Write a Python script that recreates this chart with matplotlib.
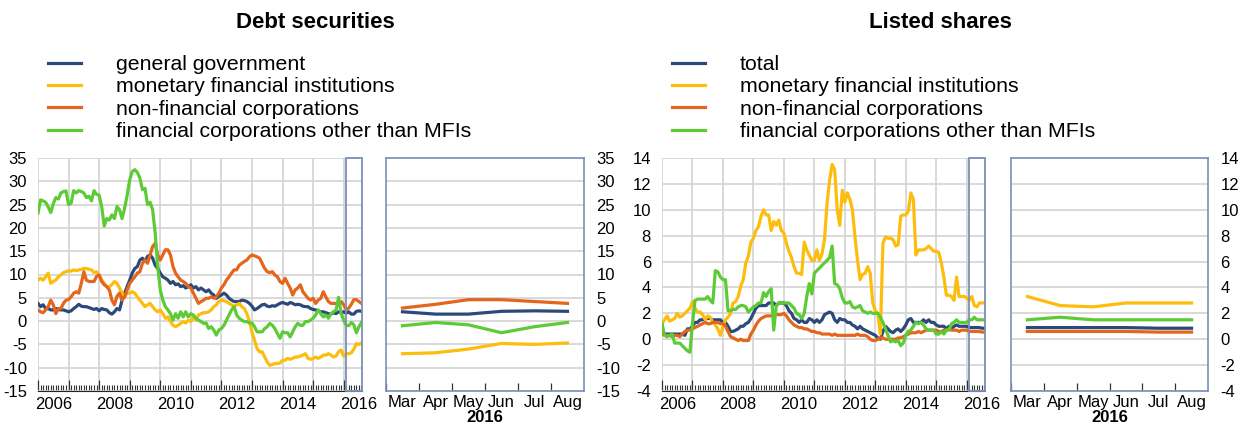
import numpy as np
import matplotlib
matplotlib.use("Agg")
from matplotlib import pyplot as plt
from matplotlib.patches import Rectangle

plt.rcParams["font.family"] = ["Liberation Sans", "DejaVu Sans"]
plt.rcParams["axes.unicode_minus"] = False

# monthly data, Jan 2006 - Aug 2016
debt_gg = [3.8, 3.1, 3.5, 2.7, 2.7, 2.4, 2.4, 2.7, 2.5, 2.4, 2.4, 2.2,
           2.0, 2.2, 2.7, 3.1, 3.6, 3.2, 3.1, 3.1, 2.9, 2.7, 2.5, 2.7,
           2.2, 2.7, 2.5, 2.4, 1.8, 1.5, 2.0, 2.7, 2.4, 4.5, 6.0, 7.4,
           8.8, 10.3, 11.3, 11.7, 13.1, 13.5, 12.8, 13.9, 14.2, 13.5, 12.0, 11.3,
           10.3, 9.5, 9.2, 8.8, 8.1, 8.5, 7.8, 8.0, 7.4, 7.6, 7.1, 7.4,
           7.8, 7.1, 7.4, 6.7, 7.1, 6.7, 6.3, 6.7, 6.0, 5.6, 4.9, 5.3,
           5.6, 6.0, 5.6, 4.9, 4.5, 4.2, 4.2, 4.2, 4.5, 4.4, 4.2, 3.8,
           3.2, 2.4, 2.7, 3.1, 3.5, 3.6, 3.2, 3.1, 3.3, 3.2, 3.5, 3.8,
           4.0, 3.8, 3.6, 4.0, 3.8, 3.5, 3.6, 3.5, 3.2, 3.1, 3.1, 2.7,
           2.5, 2.4, 2.2, 2.0, 2.0, 1.8, 1.6, 1.5, 1.8, 1.6, 2.0, 1.8,
           2.0, 1.7, 2.0, 1.5, 1.5, 2.1, 2.2, 2.1]
debt_mfi = [8.8, 9.2, 8.8, 9.5, 10.3, 8.1, 8.5, 8.8, 9.5, 9.9, 10.4, 10.6,
            10.8, 10.7, 11.0, 10.8, 11.0, 11.1, 11.3, 11.3, 11.1, 11.0, 10.4, 10.6,
            9.9, 8.8, 8.1, 7.4, 7.4, 7.8, 8.5, 8.1, 7.1, 6.0, 5.2, 6.0,
            6.0, 6.3, 6.0, 5.2, 4.5, 3.8, 3.1, 3.5, 3.8, 3.1, 2.4, 2.0,
            2.4, 1.6, 0.6, 0.9, -0.1, -0.9, -1.2, -0.9, -0.5, -0.1, -0.4, 0.2,
            -0.1, 0.9, 0.2, 1.3, 1.6, 1.8, 1.8, 2.0, 2.4, 3.1, 3.5, 4.2,
            4.5, 4.4, 4.2, 3.8, 3.5, 3.1, 3.5, 3.8, 3.1, 2.7, 1.6, -0.1,
            -2.3, -4.1, -5.9, -6.6, -6.6, -7.7, -8.8, -9.5, -9.3, -9.1, -9.1, -9.0,
            -8.4, -8.4, -8.0, -8.2, -8.0, -7.7, -7.7, -7.5, -7.3, -7.0, -8.0, -8.2,
            -8.0, -7.7, -8.0, -7.7, -7.3, -7.3, -7.0, -7.3, -7.7, -7.5, -6.6, -6.2,
            -7.5, -7.0, -7.0, -6.8, -6.0, -4.8, -5.0, -4.7]
debt_nfc = [2.4, 2.0, 1.8, 2.4, 3.1, 4.5, 3.5, 1.6, 2.7, 2.7, 3.8, 4.5,
            4.6, 5.2, 6.0, 6.3, 6.0, 8.1, 10.6, 8.8, 8.5, 8.5, 8.5, 9.6,
            9.9, 8.5, 7.8, 7.4, 6.7, 4.5, 3.5, 5.3, 6.0, 4.5, 5.2, 6.7,
            8.1, 8.8, 9.5, 10.3, 10.6, 12.4, 13.1, 12.4, 14.2, 16.0, 16.7, 14.2,
            13.1, 14.2, 15.3, 15.3, 14.2, 11.7, 10.3, 9.5, 8.8, 8.5, 8.1, 7.4,
            7.1, 6.0, 4.9, 3.8, 4.2, 4.5, 4.9, 4.9, 5.2, 4.9, 5.2, 6.0,
            7.1, 7.8, 8.8, 9.5, 10.3, 11.0, 11.0, 12.0, 12.4, 12.8, 13.1, 13.8,
            14.2, 14.0, 13.8, 13.5, 12.4, 11.3, 10.6, 10.4, 10.6, 9.9, 9.5, 8.5,
            8.1, 9.2, 8.1, 7.1, 5.6, 6.7, 7.1, 7.8, 6.3, 5.6, 4.9, 4.5,
            4.9, 3.8, 4.5, 4.9, 6.3, 5.2, 4.2, 3.8, 3.8, 3.8, 3.8, 4.2,
            3.5, 2.5, 2.8, 3.6, 4.6, 4.6, 4.2, 3.8]
debt_ofi = [23.2, 26.0, 25.8, 25.5, 24.5, 23.3, 25.2, 26.5, 26.2, 27.5, 27.8, 27.9,
            25.0, 25.3, 28.0, 27.5, 28.0, 27.8, 27.5, 26.5, 26.8, 25.8, 28.0, 27.2,
            27.0, 24.6, 20.4, 22.0, 21.7, 22.8, 22.0, 24.6, 23.9, 22.0, 24.2, 27.0,
            30.3, 32.1, 32.5, 31.9, 30.7, 28.2, 28.5, 25.0, 25.5, 23.9, 18.9, 11.7,
            6.7, 4.5, 3.1, 2.4, 1.6, 0.2, 1.6, 0.6, 2.0, 0.9, 2.0, 0.9,
            1.6, 1.3, 0.6, 0.2, -0.1, -0.5, -0.4, -1.6, -1.2, -1.9, -3.0, -1.9,
            -1.6, -0.9, 0.2, 1.3, 2.4, 3.1, 1.3, 0.6, 0.2, -0.1, -0.1, -0.4,
            -0.4, -1.2, -2.3, -2.3, -2.3, -1.6, -1.2, -0.5, -0.9, -1.6, -2.7, -3.7,
            -2.3, -2.5, -2.5, -3.4, -2.3, -1.2, -0.5, -0.9, -0.9, -0.1, -0.1, 0.2,
            0.6, 1.3, 2.4, 1.6, 0.9, 1.3, 0.6, 1.6, 2.0, 2.4, 5.1, 1.6,
            0.2, -0.9, -1.0, -0.3, -0.8, -2.5, -1.2, -0.3]

shares_total = [0.5, 0.4, 0.4, 0.4, 0.4, 0.4, 0.4, 0.4, 0.4, 0.3, 0.8, 0.8,
                1.0, 1.3, 1.3, 1.5, 1.5, 1.6, 1.6, 1.6, 1.5, 1.5, 1.5, 1.5,
                1.3, 1.3, 1.0, 0.6, 0.6, 0.7, 0.8, 1.0, 1.0, 1.2, 1.3, 1.6,
                2.0, 2.4, 2.6, 2.6, 2.6, 2.6, 2.8, 2.8, 2.8, 2.6, 2.8, 2.8,
                2.8, 2.6, 2.2, 2.0, 1.6, 1.5, 1.3, 1.5, 1.3, 1.3, 1.6, 1.5,
                1.3, 1.5, 1.3, 1.5, 1.9, 2.0, 2.1, 2.0, 1.5, 1.3, 1.6, 1.5,
                1.5, 1.3, 1.3, 1.1, 1.0, 0.8, 1.0, 0.8, 0.7, 0.6, 0.5, 0.4,
                0.3, 0.1, 0.0, 0.6, 1.0, 0.8, 0.6, 0.5, 0.7, 0.8, 0.6, 0.8,
                1.1, 1.5, 1.6, 1.3, 1.3, 1.3, 1.3, 1.5, 1.3, 1.5, 1.3, 1.3,
                1.1, 1.0, 1.0, 1.0, 0.8, 1.0, 0.8, 1.0, 1.1, 1.0, 1.0, 1.0,
                1.0, 0.9, 0.9, 0.9, 0.9, 0.9, 0.85, 0.85]
shares_mfi = [1.2, 1.5, 1.8, 1.4, 1.5, 1.6, 2.0, 1.7, 1.8, 2.0, 2.2, 2.4,
              2.9, 2.4, 2.1, 2.1, 1.9, 1.5, 1.8, 1.7, 1.3, 1.1, 0.8, 0.3,
              1.0, 1.5, 1.7, 2.0, 2.8, 2.9, 3.3, 4.1, 4.6, 5.9, 6.4, 7.5,
              7.8, 8.4, 8.7, 9.5, 10.0, 9.6, 9.6, 8.4, 9.1, 8.8, 9.2, 8.4,
              8.2, 7.4, 6.8, 6.3, 5.6, 5.1, 5.1, 5.0, 7.5, 6.9, 6.5, 6.1,
              6.1, 6.9, 6.1, 6.6, 7.7, 10.5, 12.3, 13.5, 13.1, 10.0, 8.8, 11.5,
              10.6, 11.3, 10.8, 10.0, 7.9, 6.1, 4.6, 5.0, 5.1, 5.6, 5.1, 2.8,
              2.2, 2.0, 0.4, 7.4, 7.9, 7.8, 7.8, 7.7, 7.2, 7.3, 9.5, 9.6,
              9.6, 9.9, 11.3, 10.8, 6.5, 6.9, 6.9, 6.9, 7.0, 7.2, 7.0, 6.8,
              6.8, 6.7, 5.9, 4.8, 3.4, 3.4, 3.3, 3.0, 4.8, 3.3, 3.3, 3.3,
              3.2, 3.0, 3.3, 2.6, 2.5, 2.8, 2.8, 2.8]
shares_nfc = [0.4, 0.3, 0.3, 0.3, 0.2, 0.3, 0.3, 0.2, 0.4, 0.6, 0.7, 0.7,
              0.8, 0.9, 1.0, 1.1, 1.2, 1.3, 1.2, 1.2, 1.3, 1.3, 1.3, 1.2,
              1.2, 1.0, 0.6, 0.2, 0.1, 0.0, -0.1, 0.0, -0.1, -0.1, -0.1, 0.4,
              0.7, 1.1, 1.4, 1.6, 1.7, 1.8, 1.8, 1.8, 1.9, 1.9, 1.9, 1.9,
              2.0, 1.8, 1.5, 1.3, 1.1, 1.0, 0.9, 0.9, 0.8, 0.8, 0.7, 0.6,
              0.6, 0.5, 0.5, 0.4, 0.4, 0.4, 0.4, 0.3, 0.4, 0.3, 0.3, 0.3,
              0.3, 0.3, 0.3, 0.3, 0.3, 0.4, 0.3, 0.3, 0.3, 0.2, 0.0, -0.1,
              -0.1, 0.0, 0.1, 0.1, 0.0, 0.0, 0.0, 0.0, 0.0, 0.1, 0.1, 0.2,
              0.3, 0.4, 0.5, 0.5, 0.5, 0.6, 0.5, 0.6, 0.7, 0.7, 0.7, 0.7,
              0.7, 0.6, 0.6, 0.7, 0.7, 0.8, 0.7, 0.7, 0.7, 0.6, 0.7, 0.7,
              0.7, 0.6, 0.6, 0.6, 0.6, 0.6, 0.55, 0.55]
shares_ofi = [1.2, 0.3, 0.2, 0.3, 0.4, -0.3, -0.3, -0.3, -0.5, -0.7, -0.9, -1.0,
              1.2, 3.0, 3.1, 3.1, 3.1, 3.1, 3.3, 3.0, 2.8, 5.3, 5.2, 4.8,
              4.6, 4.6, 2.2, 2.2, 2.3, 2.3, 2.5, 2.6, 2.6, 2.5, 2.1, 2.3,
              2.5, 2.6, 2.8, 2.8, 3.6, 3.3, 3.7, 3.9, 0.7, 2.6, 2.8, 2.8,
              2.8, 2.8, 2.8, 2.6, 2.4, 2.0, 1.9, 1.6, 2.0, 3.3, 4.3, 3.5,
              5.1, 5.3, 5.5, 5.7, 5.9, 6.1, 6.3, 7.2, 4.3, 4.2, 3.9, 3.2,
              2.8, 2.8, 2.9, 2.5, 2.4, 2.5, 2.6, 2.2, 2.1, 2.0, 2.1, 2.0,
              2.0, 2.0, 1.7, 1.3, 0.8, 0.3, -0.2, -0.1, -0.2, -0.1, -0.5, -0.3,
              0.3, 0.6, 0.7, 1.0, 1.3, 1.2, 1.3, 1.1, 0.8, 0.7, 0.7, 0.7,
              0.4, 0.4, 0.6, 0.4, 0.7, 0.7, 1.2, 1.3, 1.5, 1.3, 1.3, 1.3,
              1.3, 1.5, 1.5, 1.7, 1.5, 1.5, 1.5, 1.5]

months_2016 = ["Mar", "Apr", "May", "Jun", "Jul", "Aug"]
debt_labels = ["general government", "monetary financial institutions",
               "non-financial corporations", "financial corporations other than MFIs"]
shares_labels = ["total", "monetary financial institutions",
                 "non-financial corporations", "financial corporations other than MFIs"]

colors = ["#2b4a7a", "#fdbd0d", "#e3661c", "#5ccb35"]
grid_c = "#d3d3d3"
frame_c = "#7a90b5"
LW = 2.3
W, H = 1252, 425

fig = plt.figure(figsize=(12.52, 4.25), dpi=100)


def long_panel(rect, series, ylim, ystep):
    ax = fig.add_axes(rect)
    x = 2006 + np.arange(len(series[0])) / 12
    for s, c in zip(series, colors):
        ax.plot(x, s, color=c, lw=LW, solid_joinstyle="round")
    xmax = 2016.6
    ax.set_xlim(2006, xmax)
    ax.set_ylim(*ylim)
    ax.set_xticks(np.arange(2006, 2017))
    ax.set_xticks(2006 + np.arange(0, 128) / 12, minor=True)
    ax.set_xticklabels([])
    ax.set_yticks(np.arange(ylim[0], ylim[1] + 1, ystep))
    ax.tick_params(axis="x", which="major", direction="in", length=8, width=0.9, color="#333333")
    ax.tick_params(axis="x", which="minor", direction="in", length=4.5, width=0.8, color="#333333")
    ax.tick_params(axis="y", length=0, pad=8, labelsize=12)
    ax.grid(True, which="major", color=grid_c, lw=1.2)
    ax.set_axisbelow(True)
    for sp in ["left", "top", "right"]:
        ax.spines[sp].set_visible(False)
    ax.spines["bottom"].set_color("#222222")
    for yr in range(2006, 2017, 2):
        ax.text(yr + 0.5, -0.025, str(yr), transform=ax.get_xaxis_transform(),
                ha="center", va="top", fontsize=12)
    ax.add_patch(Rectangle((2016.08, ylim[0]), xmax - 2016.08, ylim[1] - ylim[0],
                           fill=False, edgecolor=frame_c, lw=1.3, clip_on=False, zorder=5))
    return ax


def short_panel(rect, series, ylim, ystep):
    ax = fig.add_axes(rect)
    x = np.arange(6)
    for s, c in zip(series, colors):
        ax.plot(x, s[-6:], color=c, lw=LW)
    ax.set_xlim(-0.5, 5.5)
    ax.set_ylim(*ylim)
    ax.set_xticks(np.arange(-0.5, 5.0, 1.0))
    ax.set_xticklabels([])
    ax.set_xticks(x, minor=True)
    ax.set_xticklabels(months_2016, minor=True, fontsize=12)
    ax.tick_params(axis="x", which="major", direction="in", length=6, width=0.9, color="#333333")
    ax.tick_params(axis="x", which="minor", length=0, pad=3)
    ax.set_yticks(np.arange(ylim[0], ylim[1] + 1, ystep))
    ax.yaxis.tick_right()
    ax.tick_params(axis="y", length=0, pad=9, labelsize=12)
    ax.grid(True, axis="y", color=grid_c, lw=1.2)
    ax.set_axisbelow(True)
    for sp in ax.spines.values():
        sp.set_color(frame_c)
        sp.set_linewidth(1.2)
    cx = rect[0] + rect[2] / 2
    fig.text(cx, 3 / H, "2016", ha="center", va="baseline",
             fontsize=12, fontweight="bold")
    return ax


bot, hgt = (H - 391) / H, 233 / H

debt = [debt_gg, debt_mfi, debt_nfc, debt_ofi]
shares = [shares_total, shares_mfi, shares_nfc, shares_ofi]

ax1 = long_panel([38 / W, bot, 324 / W, hgt], debt, (-15, 35), 5)
short_panel([386 / W, bot, 198 / W, hgt], debt, (-15, 35), 5)
ax3 = long_panel([662 / W, bot, 323 / W, hgt], shares, (-4, 14), 2)
short_panel([1011 / W, bot, 197 / W, hgt], shares, (-4, 14), 2)

fig.text(315 / W, 1 - 22 / H, "Debt securities", ha="center", va="center",
         fontsize=16, fontweight="bold")
fig.text(940 / W, 1 - 22 / H, "Listed shares", ha="center", va="center",
         fontsize=16, fontweight="bold")

leg_kw = dict(loc="upper left", frameon=False, fontsize=15.3, handlelength=1.55,
              handletextpad=1.65, labelspacing=0.16, borderaxespad=0, borderpad=0)
fig.legend(ax1.get_lines(), debt_labels, bbox_to_anchor=(48 / W, 1 - 55 / H), **leg_kw)
fig.legend(ax3.get_lines(), shares_labels, bbox_to_anchor=(672 / W, 1 - 55 / H), **leg_kw)

fig.savefig("out.png", dpi=100)
